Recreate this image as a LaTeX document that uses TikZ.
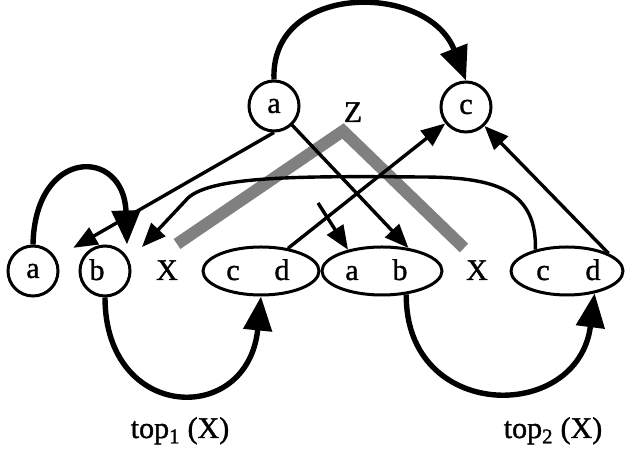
\documentclass[tikz,border=0pt]{standalone}
\usepackage{fontspec}
\setmainfont[FakeBold=1.2,AutoFakeBold=1.2]{Liberation Serif}
\usetikzlibrary{shapes.geometric,arrows.meta}
\begin{document}
\begin{tikzpicture}[x=1pt,y=1pt,
  every node/.style={font=\fontsize{30}{34}\selectfont},
  circ/.style={draw,circle,line width=3pt,minimum size=50pt,inner sep=0pt},
  ell/.style={draw,ellipse,line width=3pt,minimum height=48pt,inner sep=0pt},
  lbl/.style={inner sep=0pt,anchor=base},
  lwthin/.style={line width=3.4pt},
  lwthick/.style={line width=5.4pt},
  bigtip/.style={-{Triangle[length=34pt,width=28pt]}},
  medtip/.style={-{Triangle[length=24pt,width=19pt]}},
  zstripe/.style={line width=12pt,draw=black!50,line join=miter}]
\useasboundingbox (0,0) rectangle (625,452);
% stripe Z
\coordinate (zl) at (177,208);
\coordinate (zt) at (343,321);
\coordinate (zr) at (464,204);
\draw[zstripe] (zl) -- (zt) -- (zr);
% nodes
\node[circ] (ta) at (274,346) {a};
\node[circ] (tc) at (466,345) {c};
\node[lbl] (z) at (353,330) {Z};
\node[circ] (ba) at (33,181) {a};
\node[circ] (bb) at (105,181) {};
\node[lbl] (bbl) at (97,172) {b};
\node[lbl] (x1) at (167,172) {X};
\node[ell,minimum width=116pt] (cd1) at (261,181) {};
\node[lbl] (cd1c) at (233,172) {c};
\node[lbl] (cd1d) at (282,172) {d};
\node[ell,minimum width=120pt] (ab) at (382,181) {};
\node[lbl] (aba) at (352,172) {a};
\node[lbl] (abb) at (400,172) {b};
\node[lbl] (x2) at (477,172) {X};
\node[ell,minimum width=112pt] (cd2) at (567,181) {};
\node[lbl] (cd2c) at (543,172) {c};
\node[lbl] (cd2d) at (593,172) {d};
\node[lbl] (t1) at (180,14) {top\textsubscript{1}~(X)};
\node[lbl] (t2) at (553,14) {top\textsubscript{2}~(X)};
\coordinate (xtip) at (142,205);
\coordinate (fs) at (318,249);
% connectors
\draw[lwthick,bigtip] (ta.north) .. controls (270,470) and (428,470) .. (tc.north);
\draw[lwthin,medtip,shorten >=20pt] (ta.south) -- (ba);
\draw[lwthick,bigtip] (ba.north) .. controls (35,305) and (124,305) .. ([xshift=22pt]bb.north);
\draw[lwthin,medtip] (cd2.146) .. controls (537,265) and (490,275) .. (420,275)
   .. controls (300,276) and (212,276) .. (188,254) -- (xtip);
\draw[lwthin,medtip] (cd1.40) -- (tc);
\draw[lwthin,medtip] (cd2.23) -- (tc);
\draw[lwthin,medtip] (ta) -- (ab.41);
\draw[lwthin,medtip] (fs) -- (ab.148);
\draw[lwthick,bigtip] (bb.south) .. controls (105,30) and (248,25) .. (cd1.south);
\draw[lwthick,bigtip] (ab.-44) .. controls (405,30) and (578,28) .. (cd2.-39);
\end{tikzpicture}
\end{document}
